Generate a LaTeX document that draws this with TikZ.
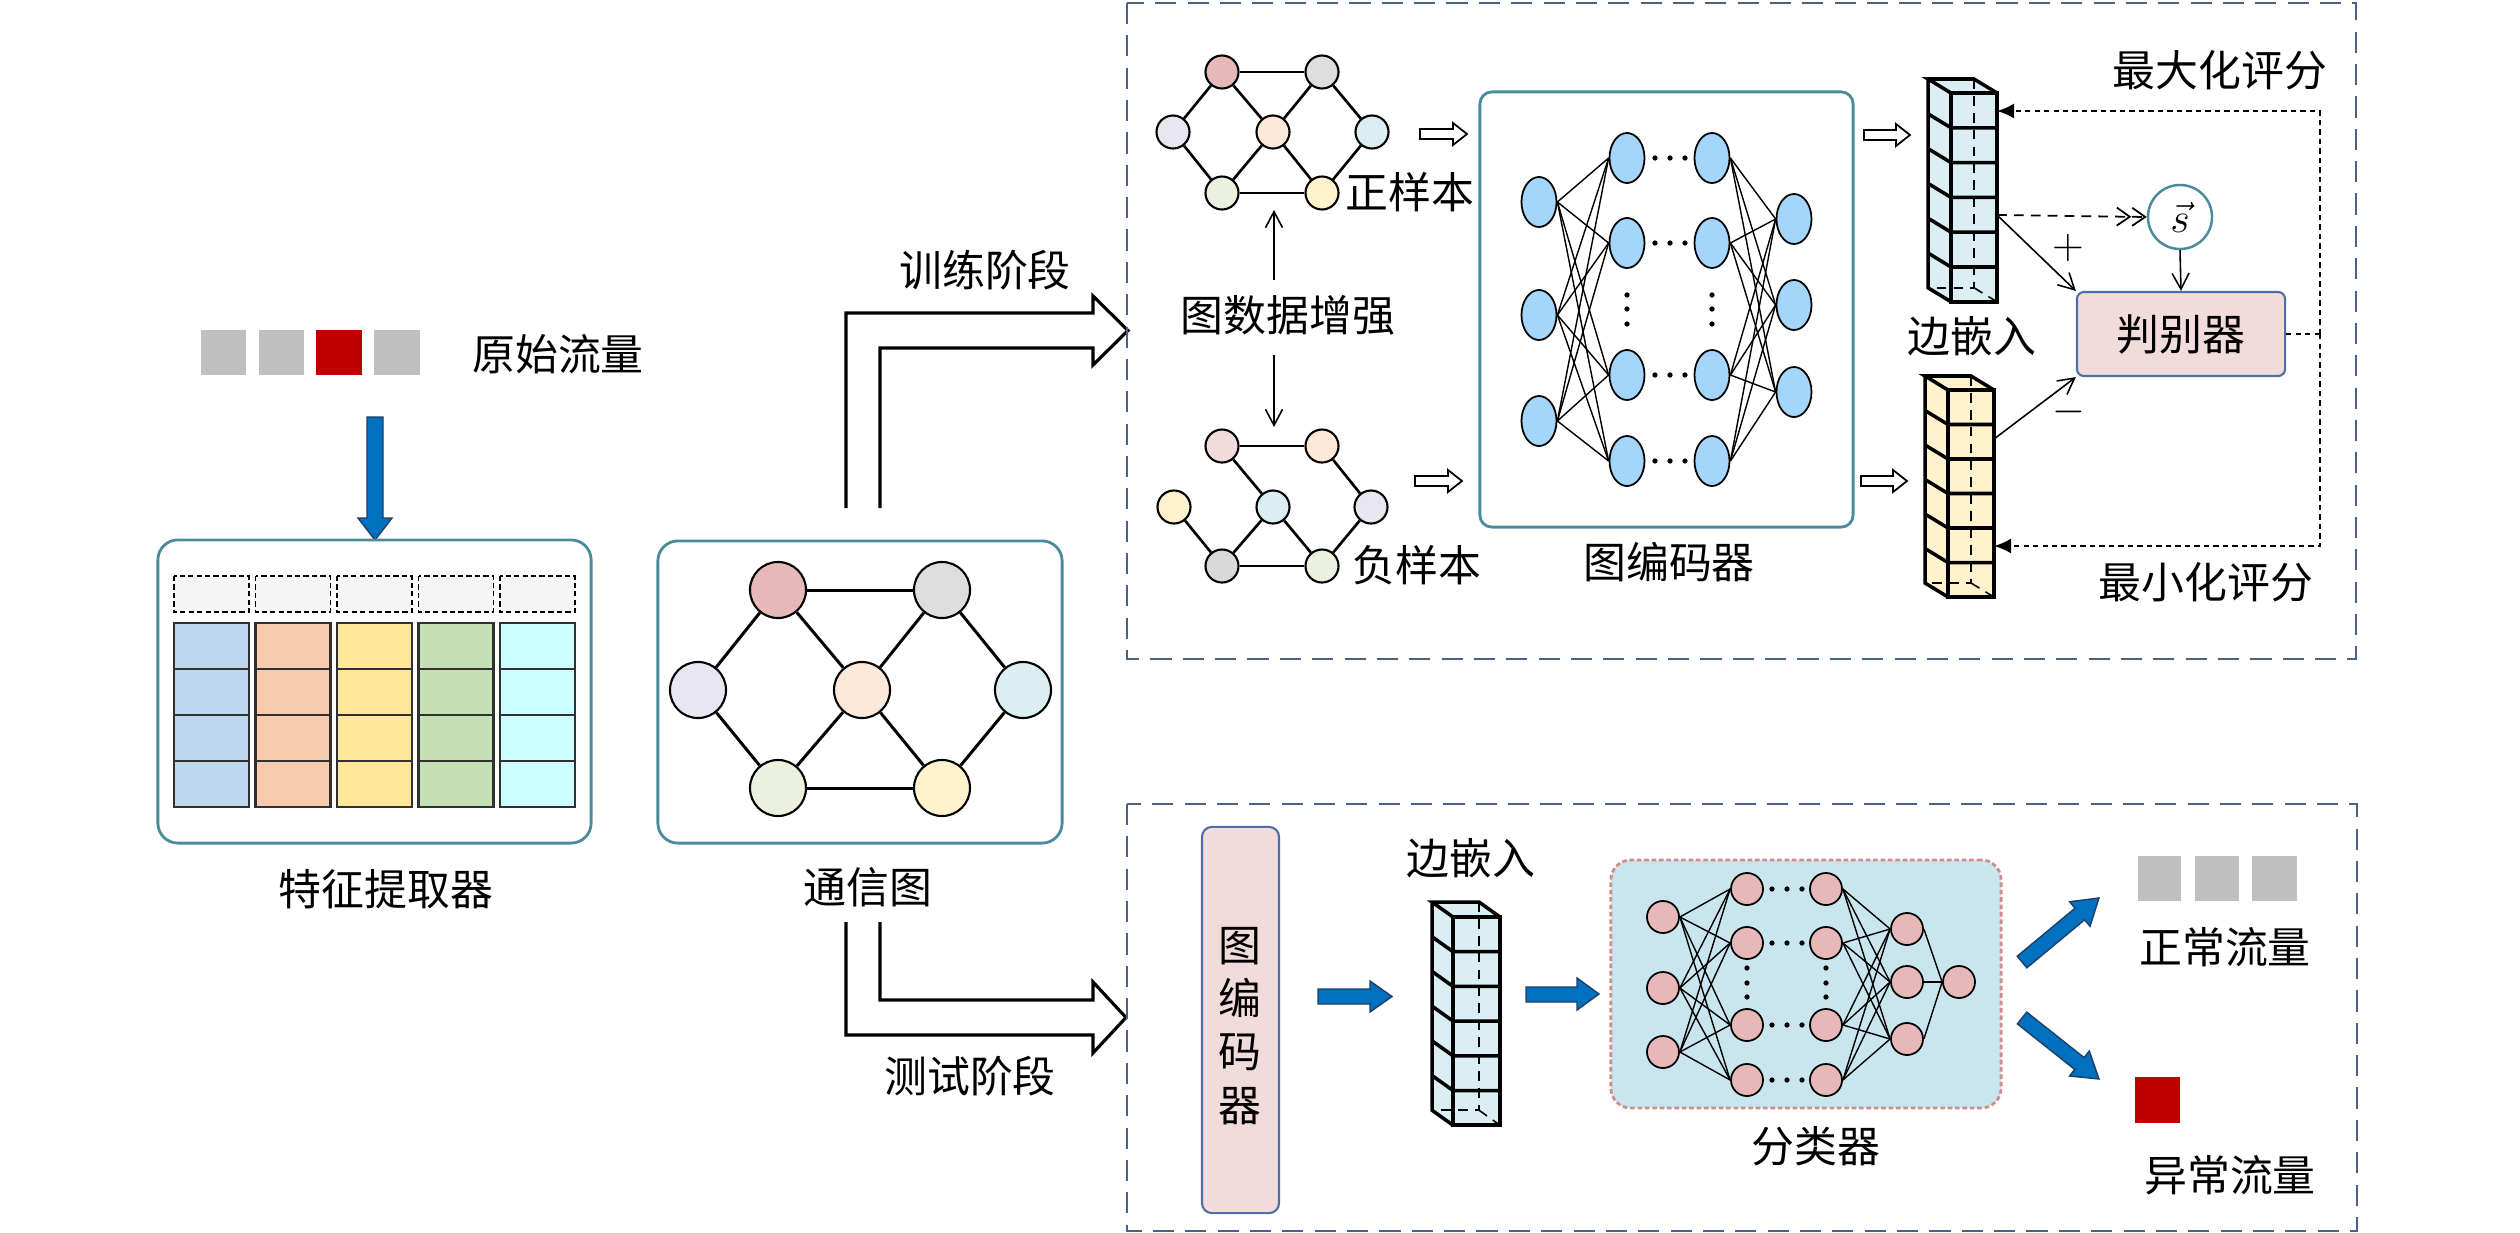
\documentclass[tikz,border=0pt]{standalone}
\usepackage{fontspec}
\newfontfamily\cjk{Noto Sans CJK SC}
\usetikzlibrary{arrows.meta,shapes.geometric}
\definecolor{tealb}{HTML}{4A8A9A}
\definecolor{dashblue}{HTML}{4A6088}
\definecolor{arrblue}{HTML}{0070C0}
\definecolor{arrline}{HTML}{1F3F66}
\definecolor{pinkbox}{HTML}{F2DCDB}
\definecolor{pinkline}{HTML}{4F6EA6}
\definecolor{clsfill}{HTML}{C9E6EE}
\definecolor{clsline}{HTML}{D48C8A}
\definecolor{encfill}{HTML}{A4D5FB}
\definecolor{cnode}{HTML}{E6B9B8}
\definecolor{colblue}{HTML}{DAEEF3}
\definecolor{colyel}{HTML}{FFF2CC}
\definecolor{sqgray}{HTML}{BFBFBF}
\definecolor{sqred}{HTML}{C00000}
\definecolor{tb}{HTML}{BDD7EE}
\definecolor{to}{HTML}{F8CBAD}
\definecolor{ty}{HTML}{FFE699}
\definecolor{tg}{HTML}{C5E0B4}
\definecolor{tc}{HTML}{CCFFFF}
\definecolor{thead}{HTML}{F5F5F5}
\definecolor{cellline}{HTML}{303030}
\definecolor{nred}{HTML}{E6B9B8}
\definecolor{ngray}{HTML}{DEDEDE}
\definecolor{nlav}{HTML}{E8E6F0}
\definecolor{npeach}{HTML}{FDE9D9}
\definecolor{nblue}{HTML}{DAEEF3}
\definecolor{ngreen}{HTML}{EBF1DE}
\definecolor{nyel}{HTML}{FFF2CC}
\definecolor{npink}{HTML}{F2DCDB}
\definecolor{ngraytwo}{HTML}{D9D9D9}
\newcommand{\embcol}[7]{%
 \pgfmathsetmacro\embH{6*#4}%
 \fill[#5] (#1-#6,#2-#7) -- (#1+#3-#6,#2-#7) -- (#1+#3,#2) -- (#1+#3,#2+\embH) -- (#1,#2+\embH) -- (#1-#6,#2+\embH-#7) -- cycle;
 \draw[hiddenl] (#1+#3-#6,#2-#7) -- (#1+#3-#6,#2+\embH-#7) -- (#1-#6,#2+\embH-#7);
 \draw[hiddenl] (#1+#3-#6,#2+\embH-#7) -- (#1+#3,#2+\embH);
 \draw[colline] (#1,#2) rectangle (#1+#3,#2+\embH);
 \foreach \k in {1,...,5} {\draw[colline] (#1-#6,#2+\k*#4-#7) -- (#1,#2+\k*#4) -- (#1+#3,#2+\k*#4);}
 \draw[colline] (#1,#2) -- (#1-#6,#2-#7) -- (#1+#3-#6,#2-#7) -- (#1+#3,#2);
 \draw[colline] (#1-#6,#2-#7) -- (#1-#6,#2+\embH-#7) -- (#1,#2+\embH);
}
\newcommand{\harrow}[3]{\draw[hollowarr] (#1,#3-5) -- (#2-14,#3-5) -- (#2-14,#3-11) -- (#2,#3) -- (#2-14,#3+11) -- (#2-14,#3+5) -- (#1,#3+5) -- cycle;}
\begin{document}
\begin{tikzpicture}[x=0.01cm,y=-0.01cm,
 lbl/.style={font=\cjk\fontsize{12.2}{14.6}\selectfont, inner sep=0pt},
 bignode/.style={circle,draw=black,line width=0.6pt,minimum size=0.56cm,inner sep=0pt},
 smnode/.style={circle,draw=black,line width=0.6pt,minimum size=0.33cm,inner sep=0pt},
 gedge/.style={line width=0.85pt},
 sedge/.style={line width=0.75pt},
 encn/.style={ellipse,draw=black,fill=encfill,line width=0.5pt,minimum width=0.35cm,minimum height=0.5cm,inner sep=0pt},
 clsn/.style={circle,draw=black,fill=cnode,line width=0.5pt,minimum size=0.32cm,inner sep=0pt},
 nnedge/.style={line width=0.4pt},
 tealbox/.style={draw=tealb,line width=0.8pt,rounded corners=0.2cm,inner sep=0pt},
 pinkbx/.style={draw=pinkline,fill=pinkbox,line width=0.6pt,inner sep=0pt},
 hollowarr/.style={draw=black,line width=0.5pt,fill=white},
 dblarr/.style={draw=black,line width=0.9pt,line join=miter},
 bluearr/.style={fill=arrblue,draw=arrline,line width=0.4pt},
 outerbox/.style={draw=dashblue,line width=0.8pt,dash pattern=on 6pt off 3.2pt},
 thinarr/.style={line width=0.45pt,-{Straight Barb[length=1.6mm,width=1.7mm]}},
 fbline/.style={line width=0.55pt,dash pattern=on 1.5pt off 1.2pt},
 colline/.style={line width=1pt,line join=miter},
 hiddenl/.style={line width=0.45pt,dash pattern=on 2.8pt off 2pt},
 headcell/.style={draw=black,fill=thead,line width=0.5pt,dash pattern=on 1.5pt off 0.9pt}
]
\useasboundingbox (0,0) rectangle (2520,1233);

% ---------------- left part ----------------
\fill[sqgray] (201,330) rectangle (246,375);
\fill[sqgray] (259,330) rectangle (304,375);
\fill[sqred] (316,330) rectangle (362,375);
\fill[sqgray] (374,330) rectangle (420,375);
\node[lbl] (raw) at (558,354) {原始流量};
\draw[bluearr] (367,417) -- (383,417) -- (383,518) -- (392,518) -- (375,540) -- (358,518) -- (367,518) -- cycle;

\node[tealbox, minimum width=4.33cm, minimum height=3.03cm] (featbox) at (374.5,691.5) {};
\foreach \c/\col in {0/tb,1/to,2/ty,3/tg,4/tc} {
  \pgfmathsetmacro\xa{174+81.5*\c}
  \draw[headcell] (\xa,576) rectangle (\xa+75,612);
  \foreach \r in {0,...,3}
    \draw[fill=\col,draw=cellline,line width=0.6pt] (\xa,623+46*\r) rectangle (\xa+75,669+46*\r);
}
\node[lbl] (featlbl) at (386,889) {特征提取器};

\node[tealbox, minimum width=4.04cm, minimum height=3.02cm] (graphbox) at (860,692) {};
\node[bignode,fill=nred]   (g1) at (778,590) {};
\node[bignode,fill=ngray]  (g2) at (942,590) {};
\node[bignode,fill=nlav]   (g3) at (698,690) {};
\node[bignode,fill=npeach] (g4) at (862,690) {};
\node[bignode,fill=nblue]  (g5) at (1023,690) {};
\node[bignode,fill=ngreen] (g6) at (778,788) {};
\node[bignode,fill=nyel]   (g7) at (942,788) {};
\foreach \a/\b in {g1/g2,g1/g3,g1/g4,g2/g4,g2/g5,g3/g6,g4/g6,g4/g7,g5/g7,g6/g7}
  \draw[gedge] (\a) -- (\b);
\node[lbl] (graphlbl) at (868,887) {通信图};

\draw[dblarr] (846,508) -- (846,313) -- (1093,313) -- (1093,296) -- (1128,330.5) -- (1093,365) -- (1093,348) -- (880,348) -- (880,508);
\draw[dblarr] (846,922) -- (846,1035) -- (1093,1035) -- (1093,1053) -- (1126,1017.5) -- (1093,982) -- (1093,1000) -- (880,1000) -- (880,922);
\node[lbl] (trainlbl) at (985,270) {训练阶段};
\node[lbl] (testlbl) at (970,1076) {测试阶段};

% ---------------- training box ----------------
\draw[outerbox] (1127,3) rectangle (2356,659);

\node[smnode,fill=nred]   (p1) at (1222,72) {};
\node[smnode,fill=ngray]  (p2) at (1322,72) {};
\node[smnode,fill=nlav]   (p3) at (1173,132) {};
\node[smnode,fill=npeach] (p4) at (1273,132) {};
\node[smnode,fill=nblue]  (p5) at (1372,132) {};
\node[smnode,fill=ngreen] (p6) at (1222,193) {};
\node[smnode,fill=nyel]   (p7) at (1322,193) {};
\foreach \a/\b in {p1/p2,p1/p3,p1/p4,p2/p4,p2/p5,p3/p6,p4/p6,p4/p7,p5/p7,p6/p7}
  \draw[sedge] (\a) -- (\b);
\node[lbl] (poslbl) at (1410,192) {正样本};

\node[smnode,fill=npink]    (n1) at (1222,446) {};
\node[smnode,fill=npeach]   (n2) at (1322,446) {};
\node[smnode,fill=nyel]     (n3) at (1174,507) {};
\node[smnode,fill=nblue]    (n4) at (1273,507) {};
\node[smnode,fill=nlav]     (n5) at (1371,507) {};
\node[smnode,fill=ngraytwo] (n6) at (1222,566) {};
\node[smnode,fill=ngreen]   (n7) at (1322,566) {};
\foreach \a/\b in {n1/n2,n1/n4,n2/n5,n3/n6,n4/n6,n4/n7,n5/n7,n6/n7}
  \draw[sedge] (\a) -- (\b);
\node[lbl] (neglbl) at (1417,565) {负样本};

\node[lbl] (aug) at (1288,315) {图数据增强};
\coordinate (augT) at (1274,280);
\coordinate (augTtip) at (1274,210);
\coordinate (augB) at (1274,355);
\coordinate (augBtip) at (1274,427);
\draw[thinarr] (augT) -- (augTtip);
\draw[thinarr] (augB) -- (augBtip);

\harrow{1420}{1467}{134}
\harrow{1415}{1462}{481}

\node[tealbox, rounded corners=0.12cm, minimum width=3.73cm, minimum height=4.35cm] (encbox) at (1666.5,309.5) {};
\foreach \y [count=\i] in {202,315,421} \node[encn] (ei\i) at (1539,\y) {};
\foreach \y [count=\i] in {158,243,375,461} {
  \node[encn] (ea\i) at (1627,\y) {};
  \node[encn] (eb\i) at (1712,\y) {};
  \foreach \xx in {1655,1670,1685} \fill (\xx,\y) circle[radius=0.75pt];
}
\foreach \y [count=\i] in {219,305,392} \node[encn] (eo\i) at (1794,\y) {};
\foreach \i in {1,2,3} \foreach \j in {1,...,4} {
  \draw[nnedge] (ei\i.east) -- (ea\j.west);
  \draw[nnedge] (eb\j.east) -- (eo\i.west);
}
\foreach \yy in {295,309,324} {\fill (1627,\yy) circle[radius=0.75pt]; \fill (1712,\yy) circle[radius=0.75pt];}
\node[lbl] (enclbl) at (1669,562) {图编码器};

\harrow{1864}{1910}{135}
\harrow{1861}{1907}{481}

\embcol{1951}{93}{46}{34.8}{colblue}{23}{14}
\embcol{1948}{390}{46}{34.5}{colyel}{23}{14}
\node[lbl] (edgelbl) at (1972,336) {边嵌入};

\coordinate (ucR) at (1997,215);
\coordinate (lcR) at (1994,439);
\coordinate (ucTop) at (1997,111);
\coordinate (lcBot) at (1994,546);
\coordinate (fbR) at (2320,334);

\node[circle, draw=tealb, line width=0.7pt, minimum size=0.64cm, inner sep=0pt, font=\fontsize{12}{14}\selectfont] (svec) at (2180,217) {$\vec{s}$};
\node[pinkbx, rounded corners=0.07cm, minimum width=2.08cm, minimum height=0.84cm] (disc) at (2181,334) {};
\node[lbl] at (disc.center) {判别器};

\draw[line width=0.5pt, dash pattern=on 2.8pt off 2pt, -{Straight Barb[length=1.3mm,width=1.8mm] Straight Barb[length=1.3mm,width=1.8mm]}] (ucR) -- (svec.west);
\draw[thinarr] (ucR) -- (disc.north west);
\draw[thinarr] (svec.south) -- (disc.north);
\draw[thinarr] (lcR) -- (disc.south west);
\node[font=\fontsize{12.5}{14}\selectfont, inner sep=0pt] (plus) at (2068,248) {$+$};
\node[font=\fontsize{12.5}{14}\selectfont, inner sep=0pt] (minus) at (2069,412) {$-$};

\draw[fbline] (disc.east) -- (fbR);
\draw[fbline, -{Latex[length=1.7mm,width=1.5mm]}] (fbR) |- (ucTop);
\draw[fbline, -{Latex[length=1.7mm,width=1.5mm]}] (fbR) |- (lcBot);
\node[lbl] (maxlbl) at (2220,70) {最大化评分};
\node[lbl] (minlbl) at (2206,582) {最小化评分};

% ---------------- test box ----------------
\draw[outerbox] (1127,804) rectangle (2357,1231);

\node[pinkbx, rounded corners=0.1cm, minimum width=0.77cm, minimum height=3.86cm] (encv) at (1240.5,1020) {};
\node[lbl, align=center, font=\cjk\fontsize{12.2}{15.1}\selectfont] at (1240,1026) {图\\编\\码\\器};

\draw[bluearr] (1318,989) -- (1370,989) -- (1370,981) -- (1392,996.5) -- (1370,1012) -- (1370,1004) -- (1318,1004) -- cycle;
\embcol{1453}{917}{47}{34.7}{colblue}{21}{15}
\node[lbl] (edgelbl2) at (1471,858) {边嵌入};
\draw[bluearr] (1526,987) -- (1577,987) -- (1577,978) -- (1599,994) -- (1577,1010) -- (1577,1002) -- (1526,1002) -- cycle;

\node[draw=clsline, fill=clsfill, line width=0.8pt, dash pattern=on 1.3pt off 0.8pt, rounded corners=0.2cm, minimum width=3.9cm, minimum height=2.48cm, inner sep=0pt] (clsbox) at (1806,984) {};
\foreach \y [count=\i] in {917,988,1052} \node[clsn] (ci\i) at (1663,\y) {};
\foreach \y [count=\i] in {889,943,1025,1080} {
  \node[clsn] (ca\i) at (1747,\y) {};
  \node[clsn] (cb\i) at (1826,\y) {};
  \foreach \xx in {1772,1787,1802} \fill (\xx,\y) circle[radius=0.75pt];
}
\foreach \y [count=\i] in {929,982,1039} \node[clsn] (co\i) at (1907,\y) {};
\node[clsn] (cf) at (1959,982) {};
\foreach \i in {1,2,3} {
  \foreach \j in {1,...,4} {
    \draw[nnedge] (ci\i.east) -- (ca\j.west);
    \draw[nnedge] (cb\j.east) -- (co\i.west);
  }
  \draw[nnedge] (co\i.east) -- (cf.west);
}
\foreach \yy in {968,983,997} {\fill (1747,\yy) circle[radius=0.75pt]; \fill (1826,\yy) circle[radius=0.75pt];}
\node[lbl] (clslbl) at (1816,1146) {分类器};

\draw[bluearr] (2017.2,956.2) -- (2075.0,908.2) -- (2069.6,901.7) -- (2099,898) -- (2090.0,926.3) -- (2084.6,919.8) -- (2026.8,967.8) -- cycle;
\draw[bluearr] (2026.7,1012.1) -- (2084.1,1057.6) -- (2089.3,1051.0) -- (2099,1079) -- (2069.5,1076.0) -- (2074.7,1069.4) -- (2017.3,1023.9) -- cycle;

\fill[sqgray] (2138,856) rectangle (2181,901);
\fill[sqgray] (2195,856) rectangle (2239,901);
\fill[sqgray] (2252,856) rectangle (2297,901);
\node[lbl] (normlbl) at (2225,947) {正常流量};
\fill[sqred] (2135,1077) rectangle (2180,1123);
\node[lbl] (abnlbl) at (2230,1175) {异常流量};
\end{tikzpicture}
\end{document}
